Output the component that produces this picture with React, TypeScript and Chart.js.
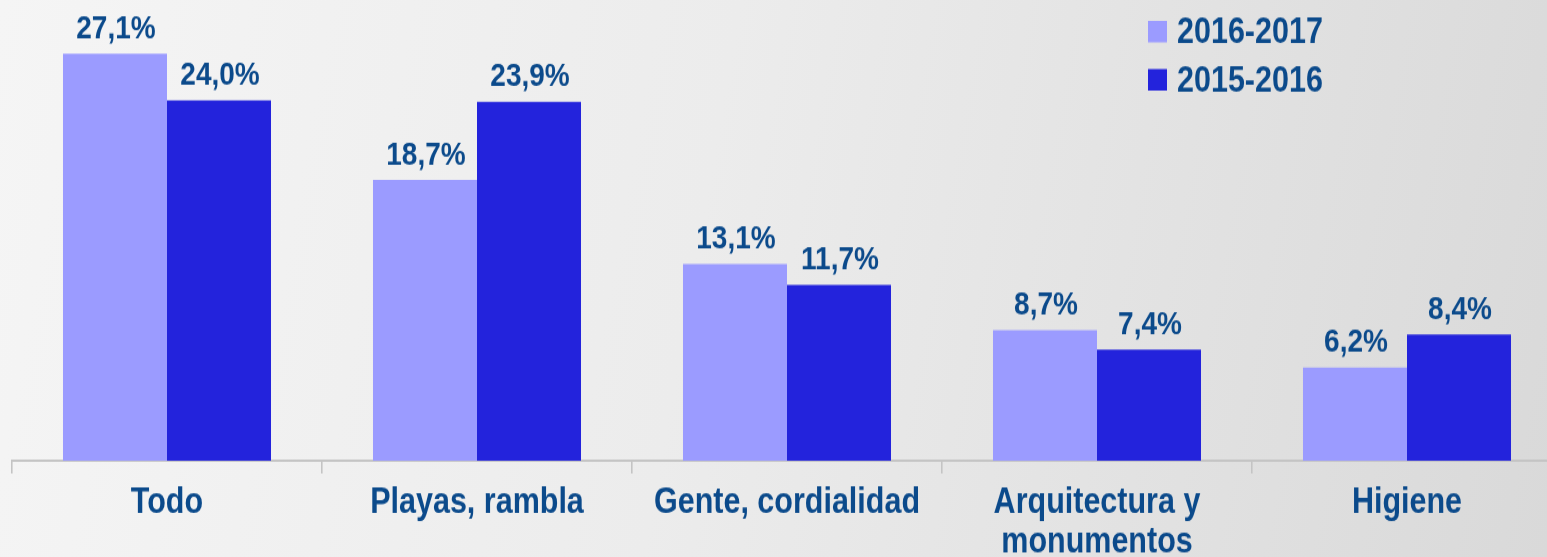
import React, { useEffect, useRef } from "react";
import { Chart, registerables } from "chart.js";

Chart.register(...registerables);

const categories: (string | string[])[] = [
  "Todo",
  "Playas, rambla",
  "Gente, cordialidad",
  ["Arquitectura y", "monumentos"],
  "Higiene",
];
const seriesNames = ["2016-2017", "2015-2016"];
const values2016_2017 = [27.1, 18.7, 13.1, 8.7, 6.2];
const values2015_2016 = [24.0, 23.9, 11.7, 7.4, 8.4];
const seriesColors = ["#9b9bff", "#2323dc"];
const textColor = "#0b4a8b";
const FONT = "'Liberation Sans', Arial, sans-serif";

// canvas drawn at reduced height, stretched vertically by CSS
const CANVAS_W = 1570;
const CANVAS_H = 480;
const VIEW_W = 1547;
const VIEW_H = 557;

const fmt = (v: number) => v.toFixed(1).replace(".", ",") + "%";

const labelPlugin = {
  id: "valueLabels",
  afterDatasetsDraw(chart: any) {
    const ctx = chart.ctx;
    ctx.save();
    ctx.font = `bold 28px ${FONT}`;
    ctx.fillStyle = textColor;
    ctx.textAlign = "center";
    ctx.textBaseline = "alphabetic";
    chart.data.datasets.forEach((ds: any, di: number) => {
      const meta = chart.getDatasetMeta(di);
      meta.data.forEach((el: any, i: number) => {
        ctx.fillText(fmt(ds.data[i]), el.x + 1, el.y - 13.3);
      });
    });
    ctx.restore();
  },
};

const legendPlugin = {
  id: "cornerLegend",
  afterDraw(chart: any) {
    const ctx = chart.ctx;
    ctx.save();
    ctx.font = `bold 30.5px ${FONT}`;
    ctx.textAlign = "left";
    ctx.textBaseline = "alphabetic";
    const rows = [
      { boxTop: 18, base: 37.3 },
      { boxTop: 59.5, base: 79.3 },
    ];
    chart.data.datasets.forEach((ds: any, di: number) => {
      const r = rows[di];
      ctx.fillStyle = ds.backgroundColor;
      ctx.fillRect(1148, r.boxTop, 19, 18.5);
      ctx.fillStyle = textColor;
      ctx.fillText(ds.label, 1177, r.base);
    });
    ctx.restore();
  },
};

export default function App() {
  const ref = useRef<HTMLCanvasElement | null>(null);

  useEffect(() => {
    if (!ref.current) return;
    const chart = new Chart(ref.current, {
      type: "bar",
      data: {
        labels: categories,
        datasets: [
          {
            label: seriesNames[0],
            data: values2016_2017,
            backgroundColor: seriesColors[0],
            categoryPercentage: 0.671,
            barPercentage: 1,
          },
          {
            label: seriesNames[1],
            data: values2015_2016,
            backgroundColor: seriesColors[1],
            categoryPercentage: 0.671,
            barPercentage: 1,
          },
        ],
      },
      options: {
        responsive: false,
        animation: false,
        devicePixelRatio: 1,
        layout: { padding: { left: 12, right: 8, top: 0, bottom: 0 } },
        plugins: {
          legend: { display: false },
          tooltip: { enabled: false },
        },
        scales: {
          x: {
            grid: {
              offset: true,
              drawOnChartArea: false,
              drawTicks: true,
              tickLength: 11,
              color: "#c4c4c4",
              lineWidth: 1.6,
            },
            border: { color: "#c4c4c4", width: 2 },
            ticks: {
              color: textColor,
              font: { family: FONT, weight: "bold", size: 30.5, lineHeight: 1.1 },
              padding: 9.3,
              maxRotation: 0,
              autoSkip: false,
            },
            afterFit: (s: any) => {
              s.height = 83;
            },
          },
          y: {
            display: false,
            min: 0,
            max: 30.68,
          },
        },
      },
      plugins: [labelPlugin, legendPlugin],
    } as any);
    return () => chart.destroy();
  }, []);

  return (
    <div
      style={{
        position: "fixed",
        left: 0,
        top: 0,
        width: VIEW_W,
        height: VIEW_H,
        overflow: "hidden",
        background: "linear-gradient(100deg, #f5f5f5 0%, #ececec 45%, #d9d9d9 100%)",
      }}
    >
      <canvas
        ref={ref}
        width={CANVAS_W}
        height={CANVAS_H}
        style={{ width: CANVAS_W + "px", height: VIEW_H + "px", display: "block" }}
      />
    </div>
  );
}
